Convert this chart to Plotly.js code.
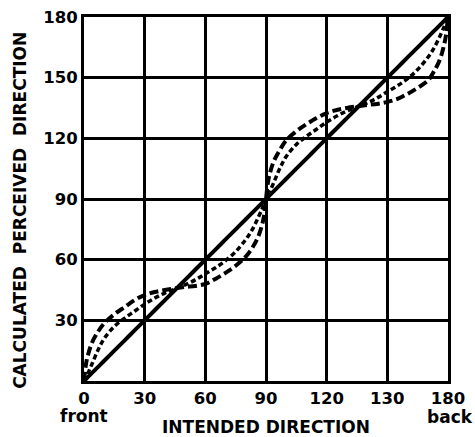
<!DOCTYPE html>
<html>
<head>
<meta charset="utf-8">
<script src="https://cdn.plot.ly/plotly-3.0.1.min.js"></script>
<style>html,body{margin:0;padding:0;background:#fff;}#chart{width:475px;height:437px;}</style>
</head>
<body>
<div id="chart"></div>
<script>
// Intended direction (degrees)
const intended = [0,1,2,4,7,10,15,20,25,30,35,40,45,50,55,60,65,70,75,80,83,86,88,89,90,
  91,92,94,97,100,105,110,115,120,125,130,135,140,145,150,155,160,165,170,173,176,178,179,180];
// Solid curve
const solidPerceived = [0,1,2,4,7,10,15,20,25,30,35,40,45,50,55,60,65,70,75,80,83,86,88,89,90,
  91,92,94,97,100,105,110,115,120,125,130,135,140,145,150,155,160,165,170,173,176,178,179,180];
// Long-dash curve
const longDashPerceived = [0,8.5,13,19,24.5,28.5,33,36.5,40,42.5,44,45,45.8,46.5,47,48,50.5,53.5,57,61.5,65.5,71,77,81.5,90,
  98.5,103,109,114.5,119,123.5,127,130,132.5,134,135,135.8,136.5,137,138,139.5,142,145,148.5,153,159,166,171,180];
// Short-dash curve
const shortDashPerceived = [0,2,4,8.5,15.5,21,27,31,34.5,38,41,43.5,45.5,47.5,50,53,56,59.5,64,70,74.5,80.5,85,87.5,90,
  92,94,98.5,105.5,111,117,121,124.5,128,131,133.5,135.5,137.5,140,143,146,149.5,154,160,164.5,170.5,175,177.5,180];
// Tick labels
const xTickVals = [0,30,60,90,120,150,180];
const xTickText = ["0","30","60","90","120","130","180"];
const yTickVals = [0,30,60,90,120,150,180];
const yTickText = ["","30","60","90","120","150","180"];

const font = "DejaVu Sans, Arial, sans-serif";
const traces = [
  {x: intended, y: solidPerceived, mode: 'lines', line: {color: '#000', width: 4, shape: 'spline'}, showlegend: false, hoverinfo: 'skip'},
  {x: intended, y: shortDashPerceived, mode: 'lines', line: {color: '#000', width: 3.5, dash: '5px,3px', shape: 'spline'}, showlegend: false, hoverinfo: 'skip'},
  {x: intended, y: longDashPerceived, mode: 'lines', line: {color: '#000', width: 4, dash: '9px,4px', shape: 'spline'}, showlegend: false, hoverinfo: 'skip'}
];
const axisBase = {
  range: [0, 180], showgrid: true, gridcolor: '#000', gridwidth: 3,
  showline: true, linecolor: '#000', linewidth: 3, mirror: true,
  zeroline: false, ticks: '', fixedrange: true,
  tickfont: {family: font, size: 16.5, color: '#000', weight: 'bold'}
};
const layout = {
  width: 475, height: 437,
  margin: {l: 84, r: 27, t: 17, b: 56},
  paper_bgcolor: '#fff', plot_bgcolor: '#fff',
  xaxis: Object.assign({}, axisBase, {
    tickmode: 'array', tickvals: xTickVals, ticktext: xTickText,
    title: {text: 'INTENDED DIRECTION', standoff: 22, font: {family: font, size: 17, color: '#000', weight: 'bold'}}
  }),
  yaxis: Object.assign({}, axisBase, {
    tickmode: 'array', tickvals: yTickVals, ticktext: yTickText
  }),
  annotations: [
    {text: 'CALCULATED\u00a0\u00a0PERCEIVED\u00a0\u00a0DIRECTION', textangle: -90, xref: 'paper', yref: 'paper',
     x: -0.176, y: 0.47, xanchor: 'center', yanchor: 'middle', showarrow: false,
     font: {family: font, size: 17, color: '#000', weight: 'bold'}},
    {text: 'front', xref: 'paper', yref: 'paper', x: 0, y: -0.096, xanchor: 'center', yanchor: 'middle', showarrow: false,
     font: {family: font, size: 17, color: '#000', weight: 'bold'}},
    {text: 'back', xref: 'paper', yref: 'paper', x: 1.005, y: -0.10, xanchor: 'center', yanchor: 'middle', showarrow: false,
     font: {family: font, size: 17, color: '#000', weight: 'bold'}}
  ]
};
Plotly.newPlot('chart', traces, layout, {displayModeBar: false, staticPlot: true});
</script>
</body>
</html>
